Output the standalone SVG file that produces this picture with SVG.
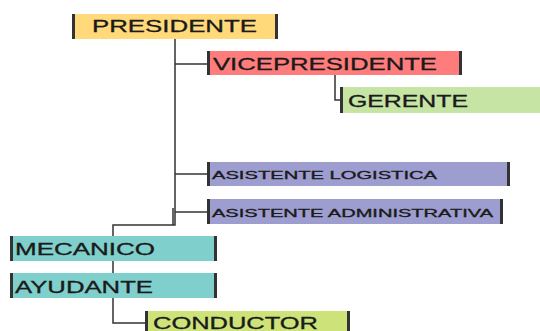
<svg xmlns="http://www.w3.org/2000/svg" width="540" height="331" viewBox="0 0 540 331">
<style>
.bar{fill:#333;}
.t{font-family:"Liberation Sans",Arial,sans-serif;fill:#1a1a1a;stroke:#1a1a1a;stroke-width:0.3;}
.big{font-size:16px;}
.small{font-size:10.5px;}
.ln{stroke:#333;stroke-width:1.5;fill:none;}
</style>
<rect width="540" height="331" fill="#fff"/>
<g id="connectors">
<path class="ln" d="M175,39 V225 H113 V236"/>
<path class="ln" d="M175,64 H207"/>
<path class="ln" d="M335,75 V100 H340"/>
<path class="ln" d="M175,174 H207"/>
<path class="ln" d="M175,212 H207"/>
<path class="ln" d="M173,208 V225" stroke="#777"/>
<path class="ln" d="M113,261 V273"/>
<path class="ln" d="M113,298 V323 H145"/>
</g>
<g id="presidente">
<rect x="72" y="14" width="206" height="25" fill="#FFD97A"/>
<rect class="bar" x="72" y="14" width="3" height="25"/>
<rect class="bar" x="275" y="14" width="3" height="25"/>
<text class="t big" x="92" y="32" textLength="165" lengthAdjust="spacingAndGlyphs">PRESIDENTE</text>
</g>
<g id="vicepresidente">
<rect x="207" y="51" width="255" height="24" fill="#FF7C7C"/>
<rect class="bar" x="207" y="51" width="3" height="24"/>
<rect class="bar" x="459" y="51" width="3" height="24"/>
<text class="t big" x="213" y="69.5" textLength="224" lengthAdjust="spacingAndGlyphs">VICEPRESIDENTE</text>
</g>
<g id="gerente">
<rect x="340" y="87" width="200" height="26" fill="#C6E5A5"/>
<rect class="bar" x="340" y="87" width="3" height="26"/>
<text class="t big" x="348" y="107" textLength="120" lengthAdjust="spacingAndGlyphs">GERENTE</text>
</g>
<g id="asistente-logistica">
<rect x="207" y="162" width="303" height="24" fill="#9D9DCF"/>
<rect class="bar" x="207" y="162" width="3" height="24"/>
<rect class="bar" x="507" y="162" width="3" height="24"/>
<text class="t small" x="212" y="179" textLength="225" lengthAdjust="spacingAndGlyphs">ASISTENTE LOGISTICA</text>
</g>
<g id="asistente-administrativa">
<rect x="207" y="199" width="296" height="25" fill="#9D9DCF"/>
<rect class="bar" x="207" y="199" width="3" height="25"/>
<rect class="bar" x="500" y="199" width="3" height="25"/>
<text class="t small" x="212" y="217" textLength="281" lengthAdjust="spacingAndGlyphs">ASISTENTE ADMINISTRATIVA</text>
</g>
<g id="mecanico">
<rect x="10" y="236" width="207" height="25" fill="#7FCFCC"/>
<rect class="bar" x="10" y="236" width="3" height="25"/>
<rect class="bar" x="214" y="236" width="3" height="25"/>
<text class="t big" x="15" y="255" textLength="140" lengthAdjust="spacingAndGlyphs">MECANICO</text>
</g>
<g id="ayudante">
<rect x="10" y="273" width="207" height="25" fill="#7FCFCC"/>
<rect class="bar" x="10" y="273" width="3" height="25"/>
<rect class="bar" x="214" y="273" width="3" height="25"/>
<text class="t big" x="15" y="293" textLength="138" lengthAdjust="spacingAndGlyphs">AYUDANTE</text>
</g>
<g id="conductor">
<rect x="145" y="311" width="205" height="20" fill="#CDE37A"/>
<rect class="bar" x="145" y="311" width="3" height="20"/>
<rect class="bar" x="347" y="311" width="3" height="20"/>
<text class="t big" x="153" y="328.5" textLength="165" lengthAdjust="spacingAndGlyphs">CONDUCTOR</text>
</g>
</svg>
